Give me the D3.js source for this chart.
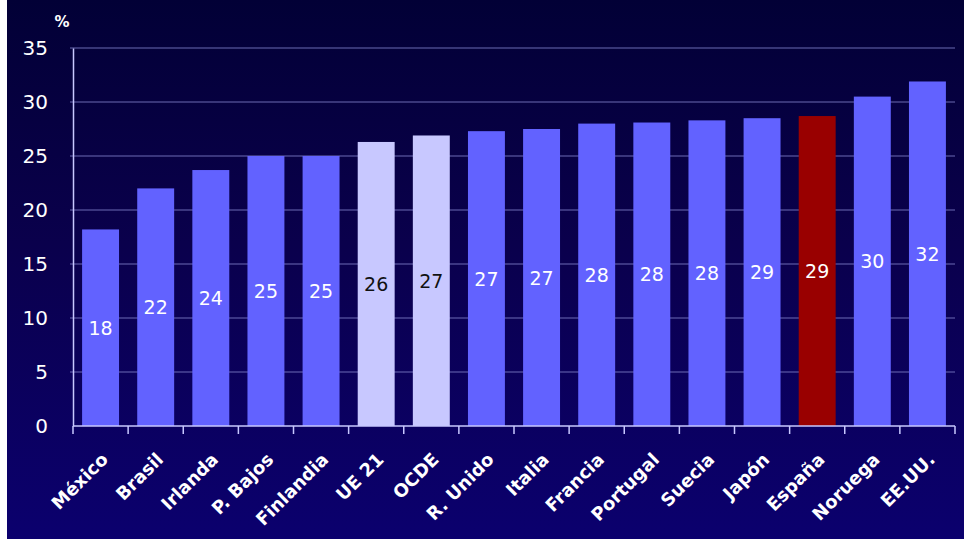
<!DOCTYPE html>
<html><head><meta charset="utf-8">
<script src="https://cdn.jsdelivr.net/npm/d3@7"></script>
<style>html,body{margin:0;padding:0;background:#fff;}svg{display:block;}</style>
</head><body>
<script>
const categories = ["México","Brasil","Irlanda","P. Bajos","Finlandia","UE 21","OCDE","R. Unido","Italia","Francia","Portugal","Suecia","Japón","España","Noruega","EE.UU."];
const values = [18.2, 22.0, 23.7, 25.0, 25.0, 26.3, 26.9, 27.3, 27.5, 28.0, 28.1, 28.3, 28.5, 28.7, 30.5, 31.9];
const valueLabels = ["18","22","24","25","25","26","27","27","27","28","28","28","29","29","30","32"];
const kinds = ["c","c","c","c","c","avg","avg","c","c","c","c","c","c","es","c","c"];
const yTicks = [0,5,10,15,20,25,30,35];
const yUnit = "%";

(function(){
const W = 964, H = 539;
const svg = d3.select("body").append("svg").attr("width", W).attr("height", H);
const defs = svg.append("defs");
const g = defs.append("linearGradient").attr("id","bg").attr("x1",0).attr("y1",0).attr("x2",0).attr("y2",1);
g.append("stop").attr("offset","0%").attr("stop-color","#020036");
g.append("stop").attr("offset","45%").attr("stop-color","#0a004c");
g.append("stop").attr("offset","100%").attr("stop-color","#0b006e");
svg.append("rect").attr("width",W).attr("height",H).attr("fill","#fff");
svg.append("rect").attr("x",7).attr("y",0).attr("width",W-7).attr("height",H).attr("fill","url(#bg)");

const mLeft = 73, mRight = 955, mTop = 48, mBottom = 426;
const x = d3.scaleBand().domain(categories).range([mLeft, mRight]).paddingInner(0.33).paddingOuter(0.165);
const y = d3.scaleLinear().domain([0,35]).range([mBottom, mTop]);

svg.append("g").selectAll("line").data(yTicks.filter(d=>d>0)).join("line")
  .attr("x1", mLeft-3).attr("x2", mRight).attr("y1", d=>y(d)).attr("y2", d=>y(d))
  .attr("stroke","#7f7fc8").attr("stroke-width",1.2).attr("opacity",0.85);

const colors = {c:"#6262ff", avg:"#c8c8ff", es:"#990000"};
svg.append("g").selectAll("rect").data(values).join("rect")
  .attr("x",(d,i)=>x(categories[i])).attr("width",x.bandwidth())
  .attr("y",d=>y(d)).attr("height",d=>y(0)-y(d))
  .attr("fill",(d,i)=>colors[kinds[i]]);

svg.append("g").selectAll("text").data(values).join("text")
  .attr("x",(d,i)=>x(categories[i])+x.bandwidth()/2)
  .attr("y",d=>(y(d)+y(0))/2)
  .attr("text-anchor","middle").attr("dominant-baseline","central")
  .attr("font-family","'DejaVu Sans', Verdana, sans-serif").attr("font-size",19)
  .attr("fill",(d,i)=>kinds[i]==="avg"?"#111":"#fff")
  .text((d,i)=>valueLabels[i]);

const ya = svg.append("g").attr("transform",`translate(${mLeft},0)`)
  .call(d3.axisLeft(y).tickValues(yTicks).tickSize(0).tickPadding(25));
ya.select(".domain").attr("stroke","#c8c8ff").attr("stroke-width",1.5);
ya.selectAll("text").attr("fill","#fff").attr("font-family","'DejaVu Sans', Verdana, sans-serif").attr("font-size",20);

svg.append("text").attr("x",62).attr("y",27).attr("text-anchor","middle")
  .attr("fill","#fff").attr("font-family","'DejaVu Sans', Verdana, sans-serif").attr("font-size",15).attr("font-weight","bold").text(yUnit);

const bounds = d3.range(categories.length+1).map(i=>mLeft + i*(mRight-mLeft)/categories.length);
const xa = svg.append("g");
xa.append("line").attr("x1",mLeft).attr("x2",mRight).attr("y1",mBottom).attr("y2",mBottom).attr("stroke","#c8c8ff").attr("stroke-width",1.5);
xa.selectAll("line.t").data(bounds).join("line").attr("class","t")
  .attr("x1",d=>d).attr("x2",d=>d).attr("y1",mBottom).attr("y2",mBottom+8).attr("stroke","#c8c8ff").attr("stroke-width",1.5);
xa.selectAll("text").data(categories).join("text")
  .attr("transform",d=>`translate(${x(d)+x.bandwidth()/2+4},${mBottom+30}) rotate(-45)`)
  .attr("text-anchor","end").attr("dominant-baseline","central")
  .attr("fill","#fff").attr("font-family","'DejaVu Sans', Verdana, sans-serif").attr("font-size",18).attr("font-weight","bold")
  .text(d=>d);
})();
</script>
</body></html>
